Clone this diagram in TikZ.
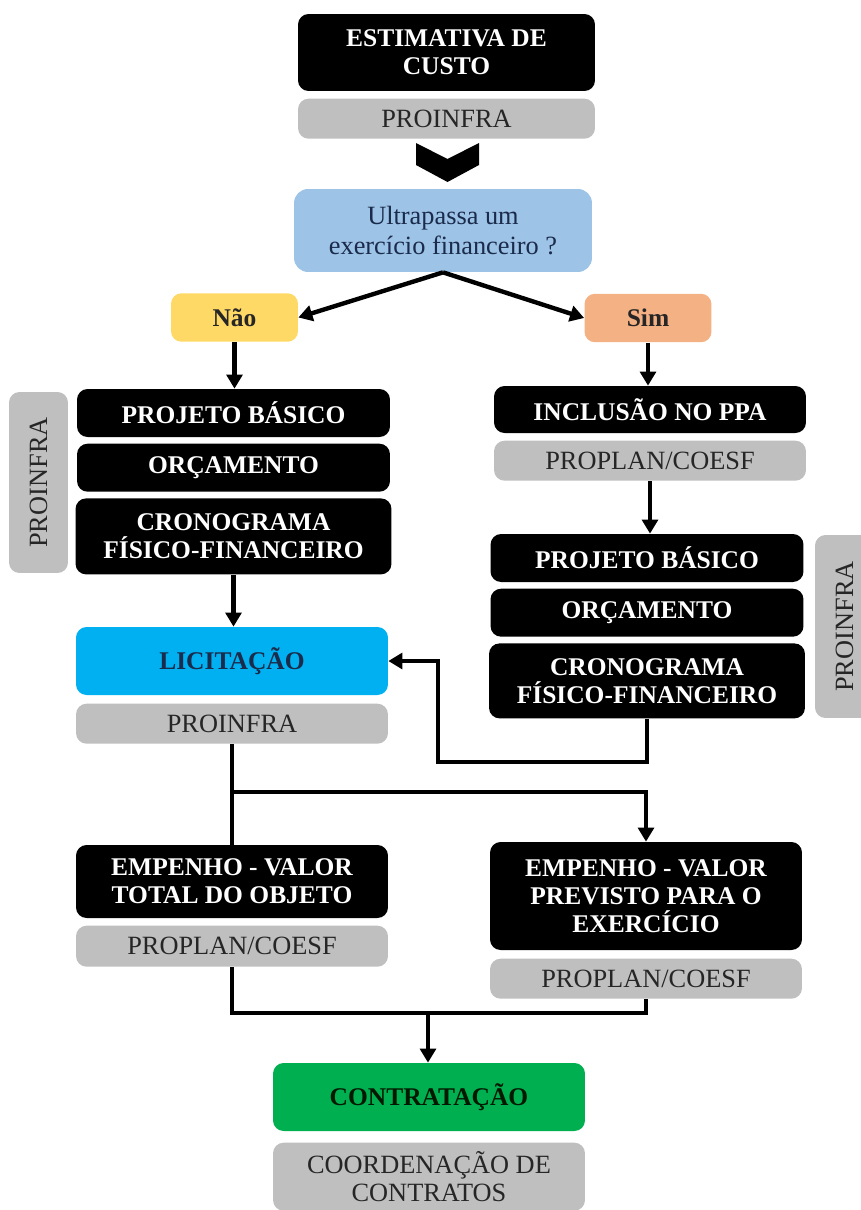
\documentclass[tikz,border=0pt]{standalone}
\usepackage{fontspec}
\setmainfont{Liberation Serif}
\usepackage{tikz}
\usetikzlibrary{positioning,arrows.meta}
\definecolor{cinza}{HTML}{BFBFBF}
\definecolor{azulq}{HTML}{9DC3E6}
\definecolor{azullic}{HTML}{00B0F0}
\definecolor{amarelo}{HTML}{FFD966}
\definecolor{salmao}{HTML}{F4B183}
\definecolor{verde}{HTML}{00B050}
\definecolor{marinho}{HTML}{1A2B4C}
\tikzstyle{etapa} = [rectangle, rounded corners=6pt, fill=black, text=white, minimum width=6.26cm, minimum height=0.96cm, inner sep=2pt, align=center, font=\fontsize{14.5}{16}\selectfont\bfseries]
\tikzstyle{setor} = [rectangle, rounded corners=6pt, fill=cinza, text=black!85, minimum width=6.24cm, minimum height=0.8cm, inner sep=2pt, align=center, font=\fontsize{15}{16.5}\selectfont]
\tikzstyle{opcao} = [rectangle, rounded corners=6pt, minimum width=2.54cm, minimum height=0.97cm, text=black!85, font=\fontsize{14.5}{16}\selectfont\bfseries]
\tikzstyle{arrow} = [line width=2.5pt,-{Triangle[length=8pt,width=9pt]}]
\tikzstyle{line} = [line width=2.5pt]

\begin{document}
\begin{tikzpicture}[x=0.02cm,y=-0.02cm]
    \useasboundingbox (0,0) rectangle (861,1210);
    % topo
    \node (est) [etapa, minimum width=5.94cm, minimum height=1.54cm] at (446.5,52.5) {ESTIMATIVA DE\\CUSTO};
    \node (estorg) [setor, minimum width=5.94cm, below=0.14cm of est] {PROINFRA};
    \fill (416,143) -- (447.5,159) -- (479,143) -- (479,165) -- (447.5,182) -- (416,165) -- cycle;
    \node (q) [rectangle, rounded corners=8pt, fill=azulq, text=marinho, minimum width=5.96cm, minimum height=1.66cm, align=center, font=\fontsize{15}{17}\selectfont] at (443,230.5) {Ultrapassa um\\exercício financeiro ?};
    \node (nao) [opcao, fill=amarelo] at (234.5,317.5) {Não};
    \node (sim) [opcao, fill=salmao] at (648,318) {Sim};
    % ramo nao
    \node (pb1) [etapa] at (233.5,413) {PROJETO BÁSICO};
    \node (orc1) [etapa, below=0.12cm of pb1] {ORÇAMENTO};
    \node (cr1) [etapa, minimum width=6.32cm, minimum height=1.52cm, below=0.12cm of orc1] {CRONOGRAMA\\FÍSICO-FINANCEIRO};
    \node (lado1) [setor, minimum width=3.62cm, minimum height=1.18cm, rotate=90] at (38.5,482.5) {PROINFRA};
    % ramo sim
    \node (inc) [etapa, minimum width=6.24cm, minimum height=0.94cm] at (650,409.5) {INCLUSÃO NO PPA};
    \node (incorg) [setor, below=0.14cm of inc] {PROPLAN/COESF};
    \node (pb2) [etapa] at (647,558) {PROJETO BÁSICO};
    \node (orc2) [etapa, below=0.12cm of pb2] {ORÇAMENTO};
    \node (cr2) [etapa, minimum width=6.32cm, minimum height=1.5cm, below=0.12cm of orc2] {CRONOGRAMA\\FÍSICO-FINANCEIRO};
    \node (lado2) [setor, minimum width=3.66cm, minimum height=1.18cm, rotate=90] at (844.5,626.5) {PROINFRA};
    % licitacao
    \node (lic) [etapa, fill=azullic, text=marinho, minimum width=6.24cm, minimum height=1.36cm] at (232,661) {LICITAÇÃO};
    \node (licorg) [setor, below=0.16cm of lic] {PROINFRA};
    % empenhos
    \node (emp1) [etapa, minimum width=6.24cm, minimum height=1.46cm] at (232,881.5) {EMPENHO - VALOR\\TOTAL DO OBJETO};
    \node (emp1org) [setor, minimum height=0.82cm, below=0.14cm of emp1] {PROPLAN/COESF};
    \node (emp2) [etapa, minimum width=6.24cm, minimum height=2.16cm] at (646,896) {EMPENHO - VALOR\\PREVISTO PARA O\\EXERCÍCIO};
    \node (emp2org) [setor, below=0.16cm of emp2] {PROPLAN/COESF};
    % contratacao
    \node (con) [etapa, fill=verde, text=black!90!green, minimum width=6.24cm, minimum height=1.36cm] at (429,1097) {CONTRATAÇÃO};
    \node (conorg) [setor, minimum height=1.36cm, font=\fontsize{15}{15.5}\selectfont, below=0.22cm of con] {COORDENAÇÃO DE\\CONTRATOS};
    \fill [cinza] (conorg.south west) rectangle ([yshift=-0.3cm]conorg.south east);
    \coordinate (retorno) at (438,762);
    \coordinate (ramo) at (232,792);
    \coordinate (juncao) at (428,1013);
    \draw [arrow] (q.south) -- (nao.east);
    \draw [arrow] (q.south) -- (sim.west);
    \draw [arrow] (nao.south) -- (nao.south |- pb1.north);
    \draw [arrow] (sim.south) -- (sim.south |- inc.north);
    \draw [arrow] (incorg.south) -- (incorg.south |- pb2.north);
    \draw [arrow] (cr1.south) -- (cr1.south |- lic.north);
    \draw [arrow] (cr2.south) |- (retorno) |- (lic.east);
    \draw [line] (licorg.south) -- (licorg.south |- emp1.north);
    \draw [arrow] (licorg.south |- ramo) -| (emp2.north);
    \draw [line] (emp1org.south) |- (juncao) -| (emp2org.south);
    \draw [arrow] (juncao) -- (juncao |- con.north);
\end{tikzpicture}
\end{document}
